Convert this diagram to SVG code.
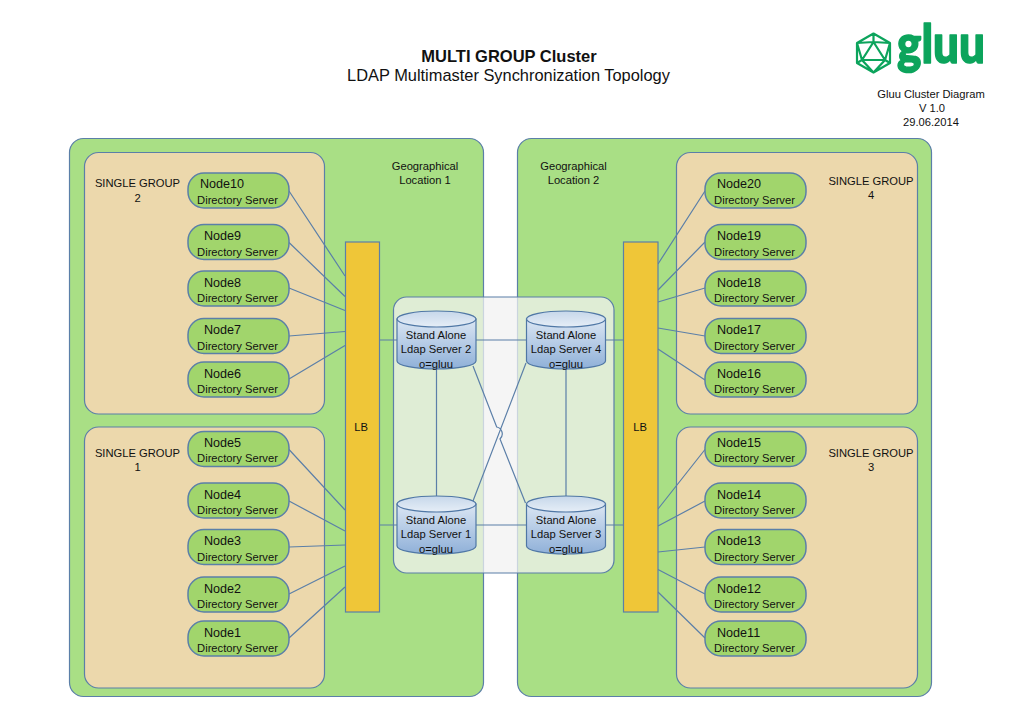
<svg xmlns="http://www.w3.org/2000/svg" width="1024" height="724" viewBox="0 0 1024 724">
<style>
text{font-family:"Liberation Sans",Arial,sans-serif;fill:#111;font-size:11.2px;text-anchor:middle}
.loc{fill:#a9df85;stroke:#5b7fa8;stroke-width:1.2}
.grp{fill:#ecd8ac;stroke:#5b7fa8;stroke-width:1.2}
.nb{fill:#a1d56c;stroke:#5b7fa8;stroke-width:1.5}
.lb{fill:#efc638;stroke:#5b7fa8;stroke-width:1.2}
.nm{font-size:12.6px;text-anchor:start}
.conn{fill:none;stroke:#5b7fa8;stroke-width:1.2}
.cb{fill:url(#cyl);stroke:#4f77a5;stroke-width:1.2}
.ct{fill:url(#cyltop);stroke:#4f77a5;stroke-width:1.2}
.logo{fill:none;stroke:#0ca45c;stroke-width:2.2;stroke-linejoin:round}
</style>
<defs>
<linearGradient id="cyl" x1="0" y1="0" x2="0" y2="1"><stop offset="0" stop-color="#dbe6f3"/><stop offset="1" stop-color="#8fb0d8"/></linearGradient>
<linearGradient id="cyltop" x1="0" y1="0" x2="0" y2="1"><stop offset="0" stop-color="#c6d7ea"/><stop offset="1" stop-color="#e6eef7"/></linearGradient>
<g id="cyl-shape"><path class="cb" d="M0 8V50A39.5 8 0 0 0 79 50V8Z"/><ellipse class="ct" cx="39.5" cy="8" rx="39.5" ry="8"/></g>
<g id="node-shape"><rect class="nb" width="101" height="35" rx="16" ry="16"/></g>
</defs>
<rect width="1024" height="724" fill="#fff"/>
<g id="title">
<text x="509" y="62" style="font-size:16.5px;font-weight:bold">MULTI GROUP Cluster</text>
<text x="508.5" y="81" style="font-size:16.4px">LDAP Multimaster Synchronization Topology</text>
</g>
<g id="logo">
<path class="logo" d="M873.5 33.5L890 43V63L873.5 72.5L857 63V43ZM873.5 33.5V42M873.5 42L885 60L873.5 72.5L862 60ZM862 60H885M857 43L873.5 42L890 43M857 43L862 60L857 63M890 43L885 60L890 63"/>
<text x="941" y="63" textLength="88" lengthAdjust="spacingAndGlyphs" style="font-family:Lato,'Liberation Sans',sans-serif;font-size:53px;font-weight:900;fill:#0ca45c;stroke:#0ca45c;stroke-width:1.5;stroke-linejoin:round">gluu</text>
</g>
<g id="header">
<text x="931" y="98">Gluu Cluster Diagram</text>
<text x="932" y="112">V 1.0</text>
<text x="931" y="126">29.06.2014</text>
</g>
<g id="location1"><rect class="loc" x="69.5" y="138.5" width="414" height="558" rx="14"/><text x="425" y="170">Geographical</text><text x="425" y="184">Location 1</text></g>
<g id="location2"><rect class="loc" x="517.5" y="138.5" width="414" height="558" rx="14"/><text x="573.5" y="170">Geographical</text><text x="573.5" y="184">Location 2</text></g>
<g id="group2"><rect class="grp" x="84.5" y="152.5" width="240" height="261.5" rx="14"/><text x="137.5" y="187">SINGLE GROUP</text><text x="137.5" y="202">2</text></g>
<g id="group1"><rect class="grp" x="84.5" y="427" width="240" height="261" rx="14"/><text x="137.5" y="457">SINGLE GROUP</text><text x="137.5" y="471">1</text></g>
<g id="group4"><rect class="grp" x="676.5" y="152.5" width="241" height="261.5" rx="14"/><text x="871" y="185">SINGLE GROUP</text><text x="871" y="199">4</text></g>
<g id="group3"><rect class="grp" x="676.5" y="427" width="241" height="261" rx="14"/><text x="871" y="457">SINGLE GROUP</text><text x="871" y="471">3</text></g>
<rect id="panel" x="393.5" y="297" width="220.5" height="276" rx="13" fill="#f2f2f2" fill-opacity=".74" stroke="#5b7fa8" stroke-width="1.2"/>
<g id="connectors" class="conn">
<path d="M289 191L345 276M289 242.5L345 296.5M289 288L345 310.5M289 336L345 331.5M289 379L345 345.5"/>
<path d="M289 449.5L345 510M289 501L345 531M289 547L345 545M289 594L345 566M289 638L345 587"/>
<path d="M705 191L658 264M705 242L658 290M705 288L658 302M705 336L658 328M705 380L658 349"/>
<path d="M705 449.5L658 509M705 501L658 526M705 547L658 552M705 594L658 569.5M705 638L658 592"/>
<path d="M379 340H397M476 340H527M606 340H626M379 525H397M476 525H527M606 525H626"/>
<path d="M436.5 369V496M566 369V496"/>
<path d="M473 366L496.7 427A7 7 0 0 1 500 439L525.5 503M526 363L473 501"/>
</g>
<g id="lb-left"><rect class="lb" x="345.5" y="242" width="34" height="370"/><text x="361" y="431">LB</text></g>
<g id="lb-right"><rect class="lb" x="623.5" y="242" width="34.5" height="370"/><text x="640" y="431">LB</text></g>
<g id="ldap2"><use href="#cyl-shape" x="397" y="311"/><text x="436" y="339">Stand Alone</text><text x="436" y="353">Ldap Server 2</text><text x="436" y="368">o=gluu</text></g>
<g id="ldap4"><use href="#cyl-shape" x="526.5" y="311"/><text x="566" y="339">Stand Alone</text><text x="566" y="353">Ldap Server 4</text><text x="566" y="368">o=gluu</text></g>
<g id="ldap1"><use href="#cyl-shape" x="397" y="496"/><text x="436" y="524">Stand Alone</text><text x="436" y="538">Ldap Server 1</text><text x="436" y="553">o=gluu</text></g>
<g id="ldap3"><use href="#cyl-shape" x="526.5" y="496"/><text x="566" y="524">Stand Alone</text><text x="566" y="538">Ldap Server 3</text><text x="566" y="553">o=gluu</text></g>
<g id="node10"><use href="#node-shape" x="188" y="173"/><text class="nm" x="200" y="188">Node10</text><text x="237.5" y="204">Directory Server</text></g>
<g id="node9"><use href="#node-shape" x="188" y="224.5"/><text class="nm" x="204" y="240">Node9</text><text x="237.5" y="255.5">Directory Server</text></g>
<g id="node8"><use href="#node-shape" x="188" y="271"/><text class="nm" x="204" y="287">Node8</text><text x="237.5" y="302">Directory Server</text></g>
<g id="node7"><use href="#node-shape" x="188" y="318.5"/><text class="nm" x="204" y="334">Node7</text><text x="237.5" y="349.5">Directory Server</text></g>
<g id="node6"><use href="#node-shape" x="188" y="362"/><text class="nm" x="204" y="378">Node6</text><text x="237.5" y="393">Directory Server</text></g>
<g id="node5"><use href="#node-shape" x="188" y="431.5"/><text class="nm" x="204" y="447">Node5</text><text x="237.5" y="462">Directory Server</text></g>
<g id="node4"><use href="#node-shape" x="188" y="483"/><text class="nm" x="204" y="499">Node4</text><text x="237.5" y="514">Directory Server</text></g>
<g id="node3"><use href="#node-shape" x="188" y="529.5"/><text class="nm" x="204" y="545">Node3</text><text x="237.5" y="560.5">Directory Server</text></g>
<g id="node2"><use href="#node-shape" x="188" y="577"/><text class="nm" x="204" y="592.5">Node2</text><text x="237.5" y="608">Directory Server</text></g>
<g id="node1"><use href="#node-shape" x="188" y="621"/><text class="nm" x="204" y="636.5">Node1</text><text x="237.5" y="652">Directory Server</text></g>
<g id="node20"><use href="#node-shape" x="705" y="173"/><text class="nm" x="717" y="188">Node20</text><text x="754.5" y="204">Directory Server</text></g>
<g id="node19"><use href="#node-shape" x="705" y="224.5"/><text class="nm" x="717" y="240">Node19</text><text x="754.5" y="255.5">Directory Server</text></g>
<g id="node18"><use href="#node-shape" x="705" y="271"/><text class="nm" x="717" y="287">Node18</text><text x="754.5" y="302">Directory Server</text></g>
<g id="node17"><use href="#node-shape" x="705" y="318.5"/><text class="nm" x="717" y="334">Node17</text><text x="754.5" y="349.5">Directory Server</text></g>
<g id="node16"><use href="#node-shape" x="705" y="362"/><text class="nm" x="717" y="378">Node16</text><text x="754.5" y="393">Directory Server</text></g>
<g id="node15"><use href="#node-shape" x="705" y="431.5"/><text class="nm" x="717" y="447">Node15</text><text x="754.5" y="462">Directory Server</text></g>
<g id="node14"><use href="#node-shape" x="705" y="483"/><text class="nm" x="717" y="499">Node14</text><text x="754.5" y="514">Directory Server</text></g>
<g id="node13"><use href="#node-shape" x="705" y="529.5"/><text class="nm" x="717" y="545">Node13</text><text x="754.5" y="560.5">Directory Server</text></g>
<g id="node12"><use href="#node-shape" x="705" y="577"/><text class="nm" x="717" y="592.5">Node12</text><text x="754.5" y="608">Directory Server</text></g>
<g id="node11"><use href="#node-shape" x="705" y="621"/><text class="nm" x="717" y="636.5">Node11</text><text x="754.5" y="652">Directory Server</text></g>
</svg>
